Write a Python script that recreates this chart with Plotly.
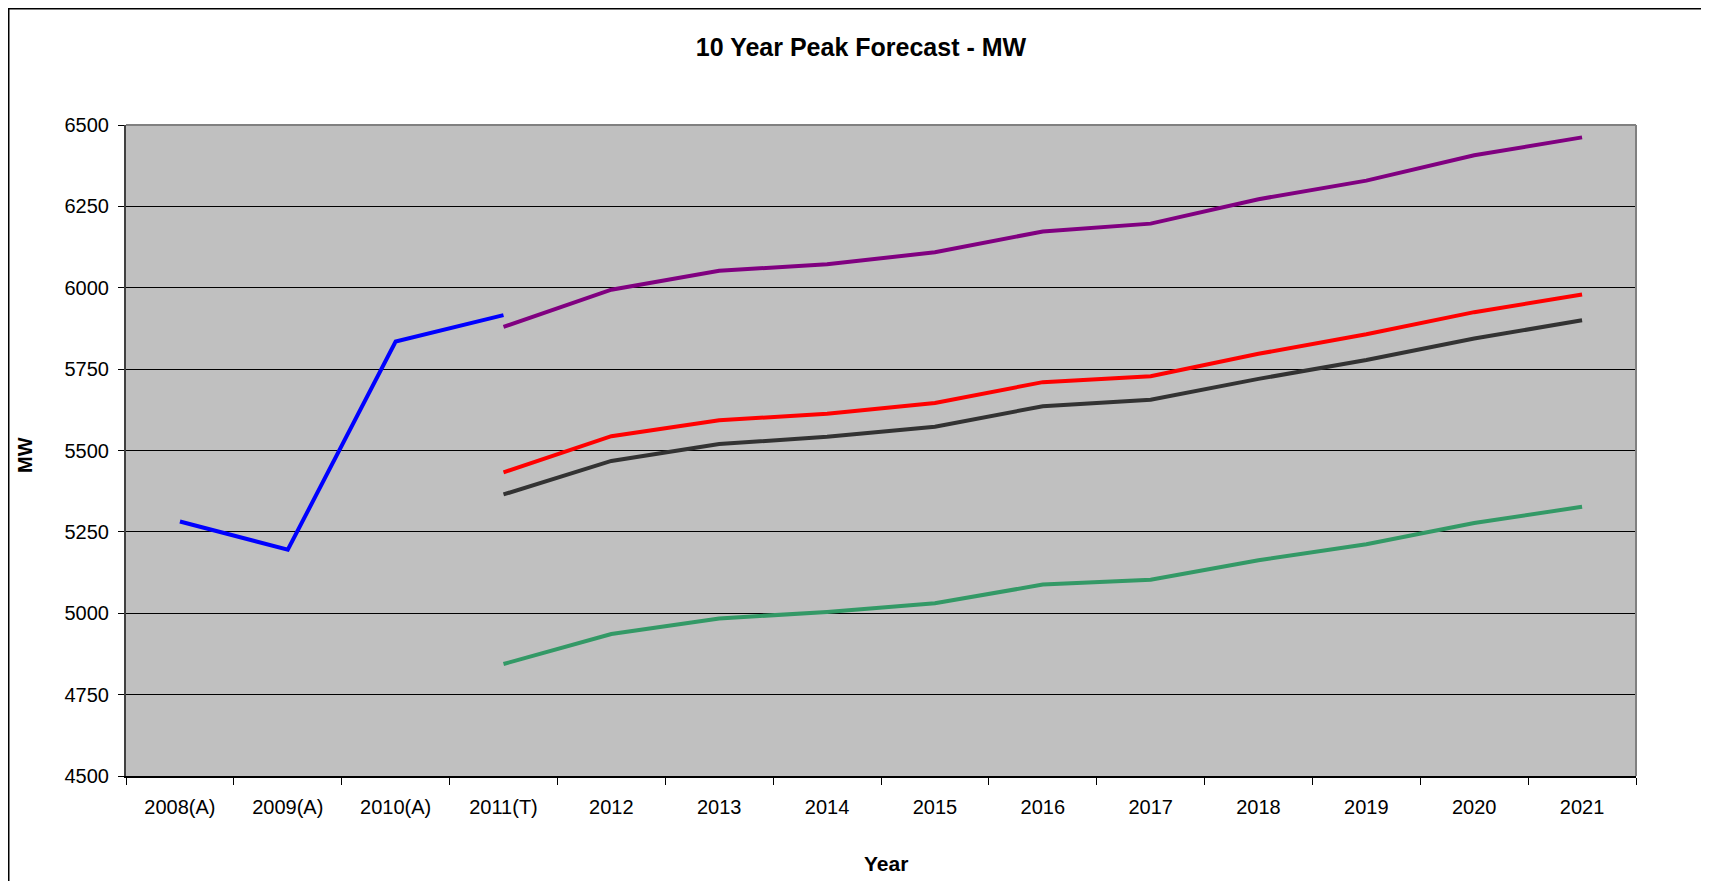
import plotly.graph_objects as go

categories = ["2008(A)", "2009(A)", "2010(A)", "2011(T)", "2012", "2013", "2014",
              "2015", "2016", "2017", "2018", "2019", "2020", "2021"]

actual = [5282, 5195, 5835, 5916, None, None, None, None, None, None, None, None, None, None]
high = [None, None, None, 5880, 5994, 6052, 6072, 6109, 6173, 6197, 6272, 6329, 6407, 6462]
base_red = [None, None, None, 5433, 5544, 5593, 5613, 5646, 5710, 5728, 5797, 5857, 5925, 5979]
base_black = [None, None, None, 5365, 5468, 5520, 5542, 5573, 5636, 5656, 5720, 5778, 5844, 5900]
low = [None, None, None, 4844, 4936, 4984, 5004, 5031, 5088, 5103, 5163, 5212, 5277, 5327]

y_ticks = [4500, 4750, 5000, 5250, 5500, 5750, 6000, 6250, 6500]

series = [
    ("Actual", actual, "#0000FF"),
    ("High", high, "#800080"),
    ("Forecast A", base_red, "#FF0000"),
    ("Forecast B", base_black, "#333333"),
    ("Low", low, "#339966"),
]

fig = go.Figure()
for name, vals, color in series:
    fig.add_trace(go.Scatter(
        x=categories, y=vals, mode="lines", name=name,
        line=dict(color=color, width=4), connectgaps=False,
        hoverinfo="x+y+name",
    ))

# page offset (default body margin of the html page)
OFF = 8
W, H = 1709 - OFF, 881 - OFF
L, R, T, B = 126 - OFF, 73, 125 - OFF, 105
pw = W - L - R
ph = H - T - B


def px_x(page_x):
    return (page_x - OFF - L) / pw


def px_y(page_y):
    return (H - B - (page_y - OFF)) / ph


font_family = "Liberation Sans, Arial, sans-serif"

fig.update_layout(
    width=W, height=H,
    margin=dict(l=L, r=R, t=T, b=B, pad=0),
    paper_bgcolor="white",
    plot_bgcolor="#C0C0C0",
    showlegend=False,
    font=dict(family=font_family, size=20, color="black"),
    title=dict(
        text="10 Year Peak Forecast - MW",
        x=(861 - OFF) / W, xanchor="center", xref="container",
        y=1 - (47 - OFF) / H, yanchor="middle", yref="container",
        font=dict(family=font_family, size=25, color="black", weight="bold"),
    ),
    xaxis=dict(
        type="category",
        categoryorder="array", categoryarray=categories,
        range=[-0.5, len(categories) - 0.5],
        showgrid=False,
        showline=True, linecolor="black", linewidth=1.5,
        ticks="outside", tickson="boundaries", ticklen=7,
        tickcolor="black", tickwidth=1,
        tickfont=dict(family=font_family, size=20, color="black"),
        ticklabelstandoff=12,
        zeroline=False, fixedrange=True,
    ),
    yaxis=dict(
        range=[4500, 6500],
        tickvals=y_ticks,
        ticktext=[str(v) for v in y_ticks],
        showgrid=True, gridcolor="black", gridwidth=1,
        showline=True, linecolor="#404040", linewidth=2,
        ticks="outside", ticklen=6, tickcolor="black", tickwidth=1,
        tickfont=dict(family=font_family, size=20, color="black"),
        ticklabelstandoff=5,
        zeroline=False, fixedrange=True,
    ),
    shapes=[
        # plot area border (gray top/right)
        dict(type="line", xref="x domain", yref="y domain", x0=0, x1=1, y0=1, y1=1,
             line=dict(color="#808080", width=2), layer="above"),
        dict(type="line", xref="x domain", yref="y domain", x0=1, x1=1, y0=0, y1=1,
             line=dict(color="#808080", width=2), layer="above"),
        # outer chart border (top and left edges visible)
        dict(type="rect", xref="paper", yref="paper",
             x0=px_x(OFF + 0.75), x1=px_x(1709 + 20),
             y0=px_y(881 + 20), y1=px_y(OFF + 0.75),
             line=dict(color="black", width=1.5), fillcolor="rgba(0,0,0,0)", layer="above"),
    ],
    annotations=[
        dict(text="Year", xref="paper", yref="paper",
             x=px_x(886), y=px_y(863),
             xanchor="center", yanchor="middle", showarrow=False,
             font=dict(family=font_family, size=21, color="black", weight="bold")),
        dict(text="MW", xref="paper", yref="paper",
             x=px_x(25), y=px_y(455), textangle=-90,
             xanchor="center", yanchor="middle", showarrow=False,
             font=dict(family=font_family, size=20, color="black", weight="bold")),
    ],
)

fig.write_html("out.html")
